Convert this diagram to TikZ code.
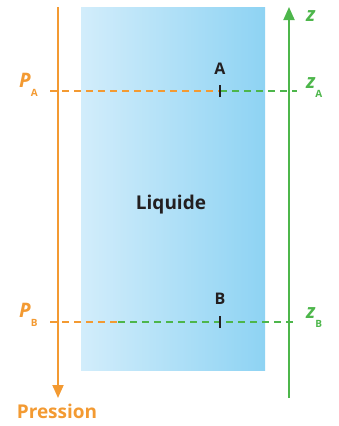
\documentclass[tikz,border=0pt]{standalone}
\usepackage{fontspec}
\setmainfont{Open Sans}
\usetikzlibrary{arrows.meta}
\definecolor{orng}{HTML}{F39A32}
\definecolor{grn}{HTML}{4DB64B}
\definecolor{liqL}{HTML}{D2EDFB}
\definecolor{liqR}{HTML}{8ED3F3}
\definecolor{txt}{HTML}{231F20}
\newcommand{\subsc}[1]{\raisebox{-9pt}{\fontsize{10}{10}\selectfont\upshape #1}}
\tikzset{
  axis/.style={line width=1.8pt, -{Triangle[length=13pt,width=11pt]}},
  dsh/.style={line width=1.7pt, dash pattern=on 7pt off 5pt},
  tick/.style={line width=1.7pt, txt},
  lbl/.style={font=\bfseries\fontsize{19}{19}\selectfont, inner sep=0pt},
  pt/.style={font=\bfseries\fontsize{16}{16}\selectfont, inner sep=0pt},
  var/.style={font=\bfseries\itshape\fontsize{20}{20}\selectfont, inner sep=0pt, anchor=base west},
}
\begin{document}
\begin{tikzpicture}[x=1pt,y=-1pt]
\useasboundingbox (0,0) rectangle (339,426);
% liquid
\shade[left color=liqL, right color=liqR] (81,7) rectangle (265,370);
\node[lbl, txt] (liq) at (171,205) {Liquide};
% coordinates
\coordinate (pa0) at (50,91);
\coordinate (pa1) at (220,91);
\coordinate (pa2) at (297,91);
\coordinate (pb0) at (50,322);
\coordinate (pbm) at (118,322);
\coordinate (pb2) at (297,322);
\coordinate (ptop) at (58,7);
\coordinate (pbot) at (58,398);
\coordinate (zbot) at (289,398);
\coordinate (ztop) at (289,7);
% dashed levels
\draw[dsh, orng] (pa0) -- (pa1);
\draw[dsh, grn] (pa1) -- (pa2);
\draw[dsh, orng] (pb0) -- (pbm);
\draw[dsh, grn] (pbm) -- (pb2);
% axes
\draw[axis, orng] (ptop) -- (pbot);
\draw[axis, grn] (zbot) -- (ztop);
% ticks
\coordinate (ta) at (220,91);
\coordinate (tb) at (220,322);
\draw[tick] ([yshift=-6]ta) -- ([yshift=6]ta);
\draw[tick] ([yshift=-6]tb) -- ([yshift=6]tb);
\node[pt, txt] (A) at (220,69) {A};
\node[pt, txt] (B) at (220,299) {B};
% labels
\node[var, orng] (PA) at (19,87) {P\subsc{A}};
\node[var, orng] (PB) at (19,317) {P\subsc{B}};
\node[var, grn] (zA) at (306,88) {z\subsc{A}};
\node[var, grn] (zB) at (306,318) {z\subsc{B}};
\node[var, grn] (z) at (306,21) {z};
\node[lbl, orng] (pr) at (57,411) {Pression};
\end{tikzpicture}
\end{document}
